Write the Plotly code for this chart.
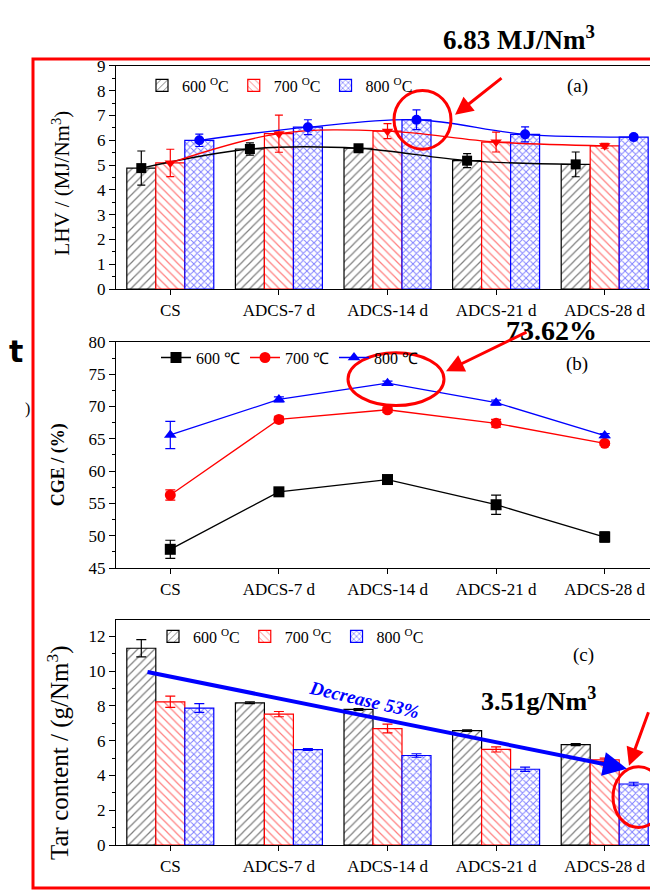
import plotly.graph_objects as go

# ---------------- data ----------------
categories = ["CS", "ADCS-7 d", "ADCS-14 d", "ADCS-21 d", "ADCS-28 d"]
temps = ["600", "700", "800"]

lhv_600 = [4.88, 5.65, 5.68, 5.18, 5.03]
lhv_700 = [5.09, 6.27, 6.37, 5.93, 5.78]
lhv_800 = [6.00, 6.53, 6.83, 6.24, 6.13]
lhv_err_600 = [0.69, 0.25, 0.15, 0.28, 0.50]
lhv_err_700 = [0.55, 0.75, 0.30, 0.40, 0.10]
lhv_err_800 = [0.25, 0.30, 0.40, 0.30, 0.10]

cge_600 = [47.9, 56.8, 58.7, 54.8, 49.8]
cge_700 = [56.3, 68.0, 69.5, 67.4, 64.3]
cge_800 = [65.6, 71.1, 73.62, 70.6, 65.5]
cge_err_600 = [1.4, 0.4, 0.4, 1.5, 0.8]
cge_err_700 = [0.8, 0.5, 0.4, 0.6, 0.3]
cge_err_800 = [2.1, 0.4, 0.3, 0.4, 0.3]

tar_600 = [11.32, 8.18, 7.80, 6.58, 5.78]
tar_700 = [8.24, 7.53, 6.70, 5.50, 4.90]
tar_800 = [7.88, 5.49, 5.15, 4.36, 3.51]
tar_err_600 = [0.50, 0.05, 0.05, 0.05, 0.06]
tar_err_700 = [0.32, 0.15, 0.25, 0.15, 0.10]
tar_err_800 = [0.25, 0.05, 0.10, 0.12, 0.10]

lhv_ticks = list(range(0, 10))
cge_ticks = list(range(45, 85, 5))
tar_ticks = list(range(0, 14, 2))

# ---------------- style ----------------
W, H = 658, 894
FONT = "Liberation Serif"
colors = ["black", "red", "blue"]
patterns = ["/", "\\", "x"]
bar_w = 0.267
offsets = [-1.5 * bar_w, -0.5 * bar_w, 0.5 * bar_w]
xi = list(range(len(categories)))


def px_x(p):
    return p / W


def px_y(p):
    return (H - p) / H


fig = go.Figure()

lhv = [lhv_600, lhv_700, lhv_800]
lhv_err = [lhv_err_600, lhv_err_700, lhv_err_800]
cge = [cge_600, cge_700, cge_800]
cge_err = [cge_err_600, cge_err_700, cge_err_800]
tar = [tar_600, tar_700, tar_800]
tar_err = [tar_err_600, tar_err_700, tar_err_800]

lhv_symbols = ["square", "triangle-down", "circle"]
cge_symbols = ["square", "circle", "triangle-up"]


def bar_marker(k):
    return dict(
        color="white",
        line=dict(color=colors[k], width=1.2),
        pattern=dict(shape=patterns[k], fgcolor=colors[k], bgcolor="white",
                     size=5 if k == 2 else 6, solidity=0.35 if k == 2 else 0.2),
    )


# panel (a) bars + smoothed lines
for k in range(3):
    fig.add_trace(go.Bar(
        x=xi, y=lhv[k], width=bar_w, offset=offsets[k],
        marker=bar_marker(k), name=f"{temps[k]} <sup>O</sup>C",
        xaxis="x", yaxis="y", legend="legend", showlegend=True,
    ))
for k in range(3):
    fig.add_trace(go.Scatter(
        x=[i + offsets[k] + bar_w / 2 for i in xi], y=lhv[k],
        mode="lines+markers", line=dict(color=colors[k], width=1.3, shape="spline", smoothing=1.0),
        marker=dict(symbol=lhv_symbols[k], size=10, color=colors[k]),
        error_y=dict(type="data", array=lhv_err[k], color=colors[k], thickness=1.2, width=4),
        xaxis="x", yaxis="y", showlegend=False,
    ))

# panel (b) lines
for k in range(3):
    fig.add_trace(go.Scatter(
        x=xi, y=cge[k], mode="lines+markers",
        line=dict(color=colors[k], width=1.3),
        marker=dict(symbol=cge_symbols[k], size=11, color=colors[k]),
        error_y=dict(type="data", array=cge_err[k], color=colors[k], thickness=1.2, width=5),
        name=f"{temps[k]} ℃", xaxis="x2", yaxis="y2", legend="legend2",
    ))

# panel (c) bars
for k in range(3):
    fig.add_trace(go.Bar(
        x=xi, y=tar[k], width=bar_w, offset=offsets[k],
        marker=bar_marker(k), name=f"{temps[k]} <sup>O</sup>C",
        error_y=dict(type="data", array=tar_err[k], color=colors[k], thickness=1.2, width=5),
        xaxis="x3", yaxis="y3", legend="legend3",
    ))

xdom = [px_x(108), px_x(651)]
common_x = dict(
    domain=xdom, range=[-0.5, 4.5], tickmode="array", tickvals=xi, ticktext=categories,
    showline=True, linecolor="black", linewidth=1.3, mirror=True, ticks="outside",
    ticklen=5, tickcolor="black", tickfont=dict(family=FONT, size=17, color="black"),
    showgrid=False, zeroline=False, fixedrange=True,
)
common_y = dict(
    showline=True, linecolor="black", linewidth=1.3, mirror=True, ticks="outside",
    ticklen=6, tickcolor="black", tickfont=dict(family=FONT, size=17, color="black"),
    showgrid=False, zeroline=False, fixedrange=True,
)

legend_font = dict(family="Liberation Serif", size=16, color="black")

fig.update_layout(
    width=W, height=H,
    margin=dict(l=0, r=0, t=0, b=0),
    paper_bgcolor="white", plot_bgcolor="white",
    font=dict(family=FONT, color="black"),
    barmode="overlay",
    xaxis=dict(common_x, anchor="y"),
    yaxis=dict(common_y, domain=[px_y(278), px_y(50)], range=[0, 9],
               tickvals=lhv_ticks, minor=dict(dtick=0.5, ticks="outside", ticklen=3, tickcolor="black"),
               anchor="x"),
    xaxis2=dict(common_x, anchor="y2"),
    yaxis2=dict(common_y, domain=[px_y(563), px_y(332)], range=[45, 80],
                tickvals=cge_ticks, minor=dict(dtick=2.5, ticks="outside", ticklen=3, tickcolor="black"),
                anchor="x2"),
    xaxis3=dict(common_x, anchor="y3"),
    yaxis3=dict(common_y, domain=[px_y(846), px_y(616)], range=[0, 12.95],
                tickvals=tar_ticks, minor=dict(dtick=1, ticks="outside", ticklen=3, tickcolor="black"),
                anchor="x3"),
    legend=dict(x=px_x(134), y=px_y(70), xanchor="left", yanchor="middle", orientation="h",
                bgcolor="rgba(0,0,0,0)", font=legend_font, itemwidth=30),
    legend2=dict(x=px_x(148), y=px_y(348), xanchor="left", yanchor="middle", orientation="h",
                 bgcolor="rgba(0,0,0,0)", font=legend_font, itemwidth=30),
    legend3=dict(x=px_x(145), y=px_y(633), xanchor="left", yanchor="middle", orientation="h",
                 bgcolor="rgba(0,0,0,0)", font=legend_font, itemwidth=30),
)

ann = []


def text(xp, yp, t, size, color="black", bold=False, angle=0, family=FONT):
    ann.append(dict(x=px_x(xp), y=px_y(yp), xref="paper", yref="paper", text=(f"<b>{t}</b>" if bold else t),
                    showarrow=False, textangle=angle, xanchor="center", yanchor="middle",
                    font=dict(family=family, size=size, color=color)))


def arrow(x0, y0, x1, y1, color, width):
    ann.append(dict(x=px_x(x1), y=px_y(y1), xref="paper", yref="paper", ax=x0 - x1, ay=y0 - y1,
                    axref="pixel", ayref="pixel", text="", showarrow=True, arrowhead=2,
                    arrowsize=1.2, arrowwidth=width, arrowcolor=color))


# axis titles
text(53, 170, "LHV / (MJ/Nm<sup>3</sup>)", 21, angle=-90)
text(50, 458, "CGE / (%)", 18, bold=True, angle=-90)
text(50, 752, "Tar content / (g/Nm<sup>3</sup>)", 25, angle=-90)

# panel labels
text(569, 70, "(a)", 19)
text(569, 355, "(b)", 19)
text(575, 652, "(c)", 19)

# highlights
text(511, 21, "6.83 MJ/Nm<sup>3</sup>", 27, bold=True)
text(543, 320, "73.62%", 28, bold=True)
text(530, 697, "3.51g/Nm<sup>3</sup>", 26, bold=True)
text(356, 697, "<i>Decrease 53%</i>", 19, color="blue", bold=True, angle=13)

# cropped fragments on the left
text(8, 342, "t", 30, bold=True, family="DejaVu Sans")
text(19, 401, ")", 16)

arrow(495, 62, 447, 100, "red", 3)
arrow(520, 322, 438, 362, "red", 3)
arrow(138, 671, 619, 768, "blue", 4)
arrow(641, 710, 621, 765, "red", 3)

shapes = [
    dict(type="rect", xref="paper", yref="paper", x0=px_x(25), x1=px_x(655), y0=px_y(890), y1=px_y(43),
         line=dict(color="red", width=3)),
    dict(type="circle", xref="paper", yref="paper", x0=px_x(386), x1=px_x(443), y0=px_y(135), y1=px_y(75),
         line=dict(color="red", width=3)),
    dict(type="circle", xref="paper", yref="paper", x0=px_x(340), x1=px_x(436), y0=px_y(397), y1=px_y(343),
         line=dict(color="red", width=3)),
    dict(type="circle", xref="paper", yref="paper", x0=px_x(605), x1=px_x(656), y0=px_y(828), y1=px_y(766),
         line=dict(color="red", width=3)),
]

fig.update_layout(annotations=ann, shapes=shapes)
fig.write_html("out.html")
